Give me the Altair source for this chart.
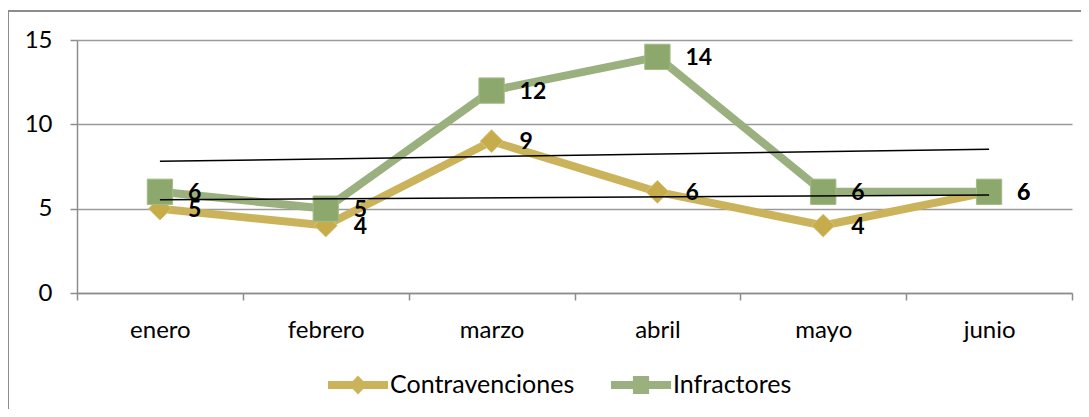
import altair as alt
import pandas as pd

meses = ["enero", "febrero", "marzo", "abril", "mayo", "junio"]
contravenciones = [5, 4, 9, 6, 4, 6]
infractores = [6, 5, 12, 14, 6, 6]
series = ["Contravenciones", "Infractores"]
colores_linea = ["#CBB35C", "#9BB07F"]
y_ticks = [0, 5, 10, 15]

rows = []
for i, m in enumerate(meses):
    rows.append({"mes": m, "idx": i + 1, "serie": series[0], "valor": contravenciones[i]})
    rows.append({"mes": m, "idx": i + 1, "serie": series[1], "valor": infractores[i]})
df = pd.DataFrame(rows)

W, H = 995, 253
FONT = "Lato"

x_enc = alt.X(
    "mes:N",
    sort=meses,
    scale=alt.Scale(type="band", paddingInner=0, paddingOuter=0),
    bandPosition=0.5,
    axis=alt.Axis(
        title=None, tickBand="extent", labelAngle=0, labelFontSize=24,
        labelColor="black", labelFont=FONT, tickSize=7, tickColor="#8c8c8c",
        domainColor="#8c8c8c", domainWidth=1.5, tickWidth=1.5, labelPadding=18,
        grid=False,
    ),
)
y_enc = alt.Y(
    "valor:Q",
    scale=alt.Scale(domain=[0, 15], nice=False, zero=True),
    axis=alt.Axis(
        title=None, values=y_ticks, labelFontSize=24, labelColor="black",
        labelFont=FONT, tickSize=7, tickColor="#8c8c8c", domainColor="#8c8c8c",
        domainWidth=1.5, tickWidth=1.5, gridColor="#9a9a9a", gridWidth=1.5,
        labelPadding=18,
    ),
)

legend_paths = [
    "M-1,-0.13H1V0.13H-1Z M0,-0.32L0.3,0L0,0.32L-0.3,0Z",
    "M-1,-0.13H1V0.13H-1Z M-0.27,-0.3H0.27V0.3H-0.27Z",
]
leg = alt.Legend(
    title=None, orient="none", legendX=251, legendY=315, direction="horizontal",
    labelFontSize=25, labelFont=FONT, labelColor="black", symbolSize=3600,
    symbolOpacity=1, symbolStrokeWidth=0, labelOffset=2, columnPadding=36,
    labelLimit=0,
)
color_enc = alt.Color("serie:N", scale=alt.Scale(domain=series, range=colores_linea), legend=leg)

base = alt.Chart(df)

lines = base.mark_line(strokeWidth=8, strokeCap="round", strokeJoin="round").encode(
    x=x_enc, y=y_enc, color=color_enc,
)

diamonds = base.transform_filter(alt.datum.serie == series[0]).mark_point(
    shape="diamond", filled=True, size=520, opacity=1, color="#C6AC4A",
    stroke="#D9C37A", strokeWidth=1,
).encode(x=x_enc, y=y_enc)

squares = base.transform_filter(alt.datum.serie == series[1]).mark_point(
    shape="square", filled=True, size=640, opacity=1, color="#8DA86D",
    stroke="#A3BC87", strokeWidth=1,
).encode(x=x_enc, y=y_enc)

labels = base.mark_text(
    align="left", baseline="middle", dx=28, dy=1, fontSize=23,
    fontWeight="bold", font=FONT, color="black",
).encode(x=x_enc, y=y_enc, text="valor:Q")

mes_expr = "[" + ",".join("'" + m + "'" for m in meses) + "][datum.idx - 1]"
trend = base.transform_regression(
    "idx", "valor", groupby=["serie"]
).transform_calculate(mes=mes_expr).mark_line(
    color="black", strokeWidth=1.5
).encode(x=x_enc, y=y_enc, detail="serie:N")

legend_layer = base.mark_point(filled=True, opacity=0).encode(
    x=x_enc, y=y_enc, color=color_enc,
    shape=alt.Shape("serie:N", scale=alt.Scale(domain=series, range=legend_paths), legend=leg),
)

border = alt.Chart(df).mark_rect(fill=None, stroke="#8c8c8c", strokeWidth=1.5).encode(
    x=alt.value(-69), x2=alt.value(1100), y=alt.value(-29), y2=alt.value(420)
)

chart = alt.layer(
    border, lines, diamonds, squares, labels, trend, legend_layer
).properties(
    width=W, height=H,
    autosize=alt.AutoSizeParams(type="none"),
    padding={"left": 69, "top": 32, "right": 9, "bottom": 116},
).configure(font=FONT).configure_view(stroke=None)

chart.save("out.html", embed_options={"renderer": "svg", "actions": False})
